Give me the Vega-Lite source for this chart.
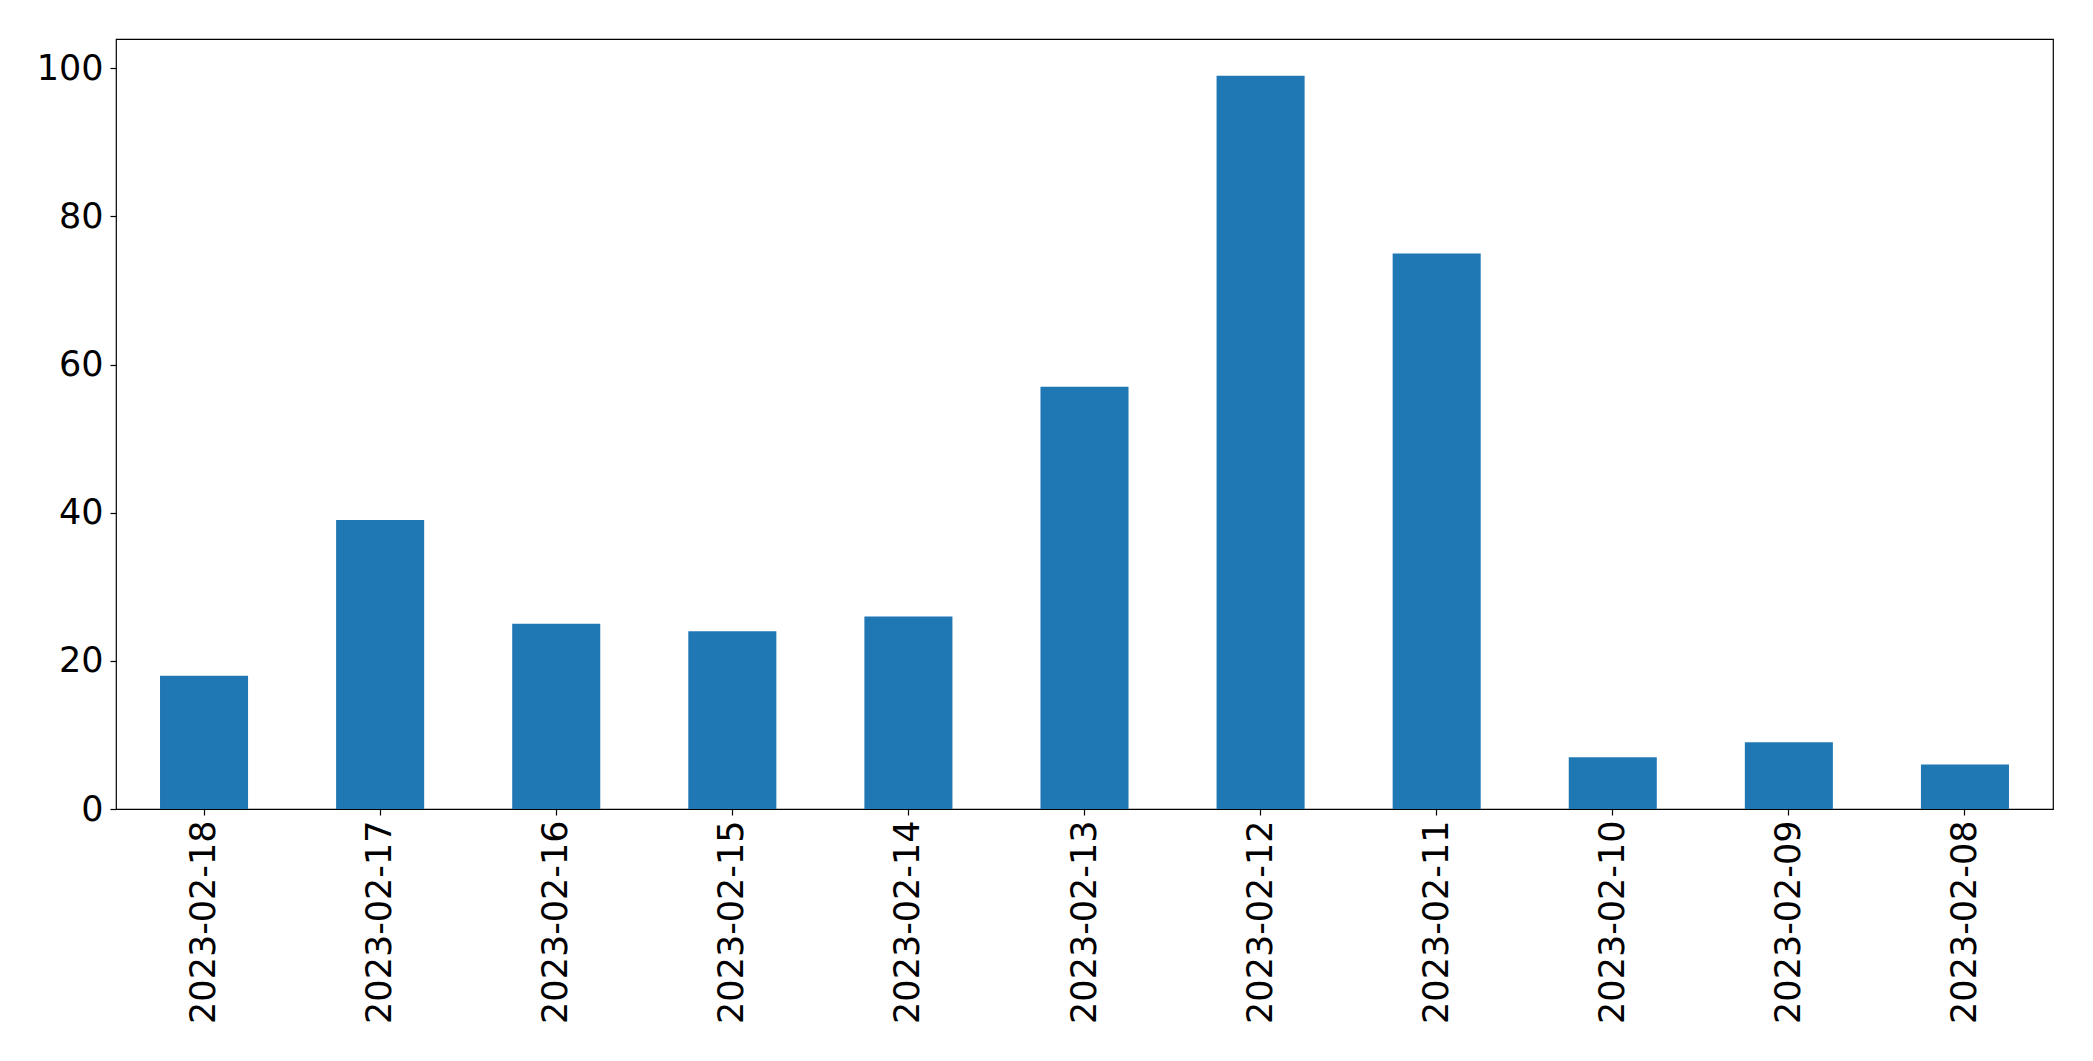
{
  "$schema": "https://vega.github.io/schema/vega-lite/v6.json",
  "width": 1937,
  "height": 770,
  "autosize": "none",
  "padding": {"left": 116, "top": 39, "right": 40, "bottom": 252},
  "background": "white",
  "config": {
    "font": "DejaVu Sans",
    "view": {"stroke": "black", "strokeWidth": 1.2},
    "axis": {"grid": false, "domain": false, "tickColor": "black", "tickSize": 6, "tickWidth": 1.2, "labelColor": "black", "labelFont": "DejaVu Sans", "labelFontSize": 35, "labelLimit": 0, "title": null}
  },
  "data": {
    "values": [
      {"date": "2023-02-18", "count": 18},
      {"date": "2023-02-17", "count": 39},
      {"date": "2023-02-16", "count": 25},
      {"date": "2023-02-15", "count": 24},
      {"date": "2023-02-14", "count": 26},
      {"date": "2023-02-13", "count": 57},
      {"date": "2023-02-12", "count": 99},
      {"date": "2023-02-11", "count": 75},
      {"date": "2023-02-10", "count": 7},
      {"date": "2023-02-09", "count": 9},
      {"date": "2023-02-08", "count": 6}
    ]
  },
  "mark": {"type": "bar", "color": "#1f77b4"},
  "encoding": {
    "x": {
      "field": "date", "type": "nominal", "sort": null,
      "scale": {"paddingInner": 0.5, "paddingOuter": 0.25},
      "axis": {"labelAngle": -90, "labelAlign": "right", "labelBaseline": "middle", "labelPadding": 5}
    },
    "y": {
      "field": "count", "type": "quantitative",
      "scale": {"domain": [0, 103.95], "nice": false, "zero": true},
      "axis": {"values": [0, 20, 40, 60, 80, 100], "labelPadding": 7}
    }
  }
}
